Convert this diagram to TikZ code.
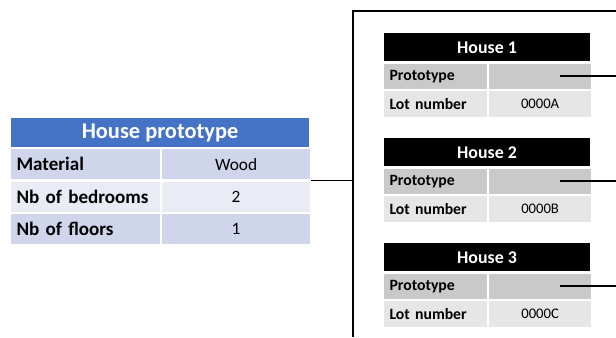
\documentclass[tikz,border=0pt]{standalone}
\usepackage{fontspec}
\setmainfont{Carlito}
\definecolor{headblue}{HTML}{4472C4}
\definecolor{rowdark}{HTML}{CFD5EA}
\definecolor{rowlight}{HTML}{E9EBF5}
\definecolor{protogray}{HTML}{C9C9C9}
\definecolor{lotgray}{HTML}{E6E6E6}
\begin{document}
\begin{tikzpicture}[x=0.75pt,y=-0.75pt,line width=1.3pt,
  every node/.style={inner sep=0pt,anchor=north west,draw=white,line width=0.8pt},
  bluehead/.style={fill=headblue,text=white,font=\fontsize{16.8}{20}\selectfont\bfseries,minimum width=224.25pt,minimum height=22.5pt},
  bkey/.style={fill=#1,font=\fontsize{14.3}{17}\selectfont\bfseries,text width=103.5pt,align=left,inner xsep=4.5pt,minimum height=23.5pt},
  bval/.style={fill=#1,font=\fontsize{13}{15}\selectfont,minimum width=111.75pt,minimum height=23.5pt},
  hhead/.style={fill=black,text=white,font=\fontsize{13.4}{16}\selectfont\bfseries,minimum width=155.25pt,minimum height=22.1pt},
  hkey/.style={fill=#1,font=\fontsize{11.8}{14}\selectfont\bfseries,text width=69pt,align=left,inner xsep=4.5pt,minimum height=19.9pt},
  hval/.style={fill=#1,font=\fontsize{11}{13}\selectfont,minimum width=77.25pt,minimum height=19.9pt}]
\useasboundingbox (0,0) rectangle (616,337);
% prototype table
\node[bluehead] (ptitle) at (10,117) {House prototype};
\node[bkey=rowdark] (pmat) at (ptitle.south west) {Material};
\node[bval=rowdark] (pmatv) at (pmat.north east) {Wood};
\node[bkey=rowlight] (pbed) at (pmat.south west) {Nb of bedrooms};
\node[bval=rowlight] (pbedv) at (pbed.north east) {2};
\node[bkey=rowdark] (pflo) at (pbed.south west) {Nb of floors};
\node[bval=rowdark] (pflov) at (pflo.north east) {1};
% house 1
\node[hhead] (hA) at (383,32) {House 1};
\node[hkey=protogray] (hAp) at (hA.south west) {Prototype};
\node[hval=protogray] (hApv) at (hAp.north east) {};
\node[hkey=lotgray] (hAl) at (hAp.south west) {Lot number};
\node[hval=lotgray] (hAlv) at (hAl.north east) {0000A};
% house 2
\node[hhead] (hB) at (383,137) {House 2};
\node[hkey=protogray] (hBp) at (hB.south west) {Prototype};
\node[hval=protogray] (hBpv) at (hBp.north east) {};
\node[hkey=lotgray] (hBl) at (hBp.south west) {Lot number};
\node[hval=lotgray] (hBlv) at (hBl.north east) {0000B};
% house 3
\node[hhead] (hC) at (383,242) {House 3};
\node[hkey=protogray] (hCp) at (hC.south west) {Prototype};
\node[hval=protogray] (hCpv) at (hCp.north east) {};
\node[hkey=lotgray] (hCl) at (hCp.south west) {Lot number};
\node[hval=lotgray] (hClv) at (hCl.north east) {0000C};
% frame and links
\coordinate (ftop) at (616,11);
\coordinate (fcorner) at (353,11);
\coordinate (fbot) at (353,337);
\draw (ftop) -- (fcorner) -- (fbot);
\draw (pmatv.south east) -- (pmatv.south east -| fcorner);
\draw ([xshift=14.6pt]hApv.center) -- (hApv.center -| ftop);
\draw ([xshift=14.6pt]hBpv.center) -- (hBpv.center -| ftop);
\draw ([xshift=14.6pt]hCpv.center) -- (hCpv.center -| ftop);
\end{tikzpicture}
\end{document}
